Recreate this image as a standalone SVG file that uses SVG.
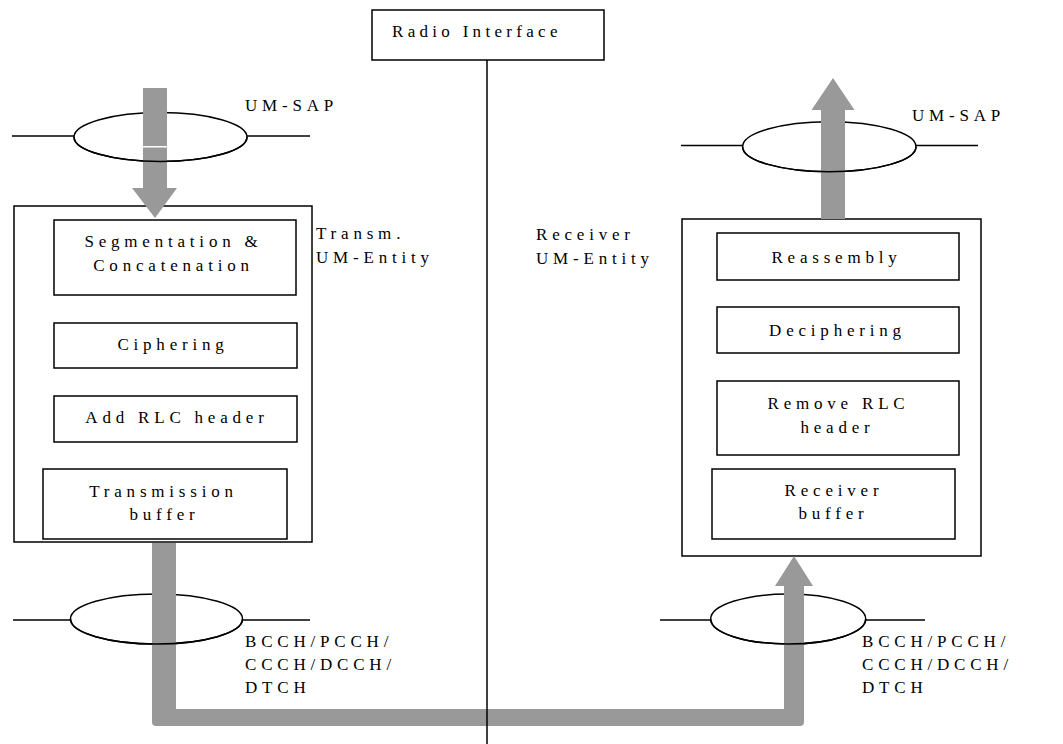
<svg xmlns="http://www.w3.org/2000/svg" width="1063" height="744" viewBox="0 0 1063 744">
<style>
.box{fill:#fff;stroke:#000;stroke-width:1.5}
.ln{fill:none;stroke:#000;stroke-width:1.5}
.gray{fill:#999;stroke:none}
text{font-family:"Liberation Serif","Times New Roman",serif;font-size:17px;letter-spacing:4.8px;fill:#000}
.c{text-anchor:middle}
</style>
<rect width="1063" height="744" fill="#fff"/>

<g id="radio-interface">
<rect class="box" x="372" y="10" width="232" height="50"/>
<text x="392" y="37" style="letter-spacing:4.3px">Radio Interface</text>
</g>

<g id="tx-entity">
<rect class="box" x="14" y="206" width="298" height="336"/>
<text x="316" y="239">Transm.</text>
<text x="316" y="263">UM-Entity</text>
</g>
<g id="tx-seg">
<rect class="box" x="54" y="220" width="242" height="75"/>
<text class="c" x="173.5" y="247">Segmentation &amp;</text>
<text class="c" x="173.5" y="271">Concatenation</text>
</g>
<g id="tx-ciph">
<rect class="box" x="54" y="323" width="243" height="45"/>
<text class="c" x="173" y="350">Ciphering</text>
</g>
<g id="tx-addrlc">
<rect class="box" x="54" y="396" width="243" height="46"/>
<text class="c" x="177" y="423">Add RLC header</text>
</g>
<g id="tx-buf">
<rect class="box" x="43" y="469" width="244" height="70"/>
<text class="c" x="163.5" y="497">Transmission</text>
<text class="c" x="164.5" y="520">buffer</text>
</g>

<g id="rx-entity">
<rect class="box" x="682" y="219" width="299" height="337"/>
<text x="536" y="240">Receiver</text>
<text x="536" y="264">UM-Entity</text>
</g>
<g id="rx-reasm">
<rect class="box" x="717" y="233" width="242" height="47"/>
<text class="c" x="836.5" y="263">Reassembly</text>
</g>
<g id="rx-deciph">
<rect class="box" x="717" y="307" width="242" height="46"/>
<text class="c" x="837.5" y="336">Deciphering</text>
</g>
<g id="rx-remrlc">
<rect class="box" x="717" y="381" width="242" height="74"/>
<text class="c" x="838.5" y="409">Remove RLC</text>
<text class="c" x="837.5" y="433">header</text>
</g>
<g id="rx-buf">
<rect class="box" x="712" y="469" width="243" height="70"/>
<text class="c" x="834" y="496">Receiver</text>
<text class="c" x="833.5" y="519">buffer</text>
</g>

<g id="sap-tx-top">
<line class="ln" x1="12" y1="136" x2="74" y2="136"/>
<line class="ln" x1="247" y1="136" x2="310" y2="136"/>
<ellipse class="ln" cx="160.5" cy="137" rx="86.5" ry="24.5"/>
<text x="245" y="111">UM-SAP</text>
</g>
<g id="sap-rx-top">
<line class="ln" x1="681" y1="145.5" x2="743" y2="145.5"/>
<line class="ln" x1="916" y1="145.5" x2="978" y2="145.5"/>
<ellipse class="ln" cx="829.3" cy="146.7" rx="86.7" ry="25"/>
<text x="912" y="121">UM-SAP</text>
</g>
<g id="sap-tx-bottom">
<line class="ln" x1="13" y1="620" x2="71" y2="620"/>
<line class="ln" x1="242" y1="620" x2="310" y2="620"/>
<ellipse class="ln" cx="156.5" cy="619" rx="86" ry="25"/>
<text x="245" y="647">BCCH/PCCH/</text>
<text x="245" y="670">CCCH/DCCH/</text>
<text x="245" y="693">DTCH</text>
</g>
<g id="sap-rx-bottom">
<line class="ln" x1="660" y1="620" x2="711" y2="620"/>
<line class="ln" x1="866" y1="620" x2="925" y2="620"/>
<ellipse class="ln" cx="788.2" cy="619" rx="77.5" ry="25"/>
<text x="862" y="647">BCCH/PCCH/</text>
<text x="862" y="670">CCCH/DCCH/</text>
<text x="862" y="693">DTCH</text>
</g>

<g id="connectors">
<rect class="gray" x="143" y="88" width="24" height="58"/>
<rect class="gray" x="143" y="147.5" width="24" height="41"/>
<polygon class="gray" points="132,188 177,188 155,218"/>
<rect class="gray" x="821" y="108" width="24" height="111"/>
<polygon class="gray" points="811.5,110 854.5,110 833,78"/>
<path class="gray" d="M152,543 H176 V709 H784 V586 H775 L794,556 L813,586 H804 V722 Q804,726 800,726 H156 Q152,726 152,722 Z"/>
<path class="ln" d="M74,137 A86.5,24.5 0 0 0 247,137"/>
<path class="ln" d="M742.6,146.7 A86.7,25 0 0 0 916,146.7"/>
<path class="ln" d="M70.5,619 A86,25 0 0 0 242.5,619"/>
<path class="ln" d="M710.7,619 A77.5,25 0 0 0 865.7,619"/>
<line class="ln" x1="487" y1="60" x2="487" y2="744"/>
</g>
</svg>
